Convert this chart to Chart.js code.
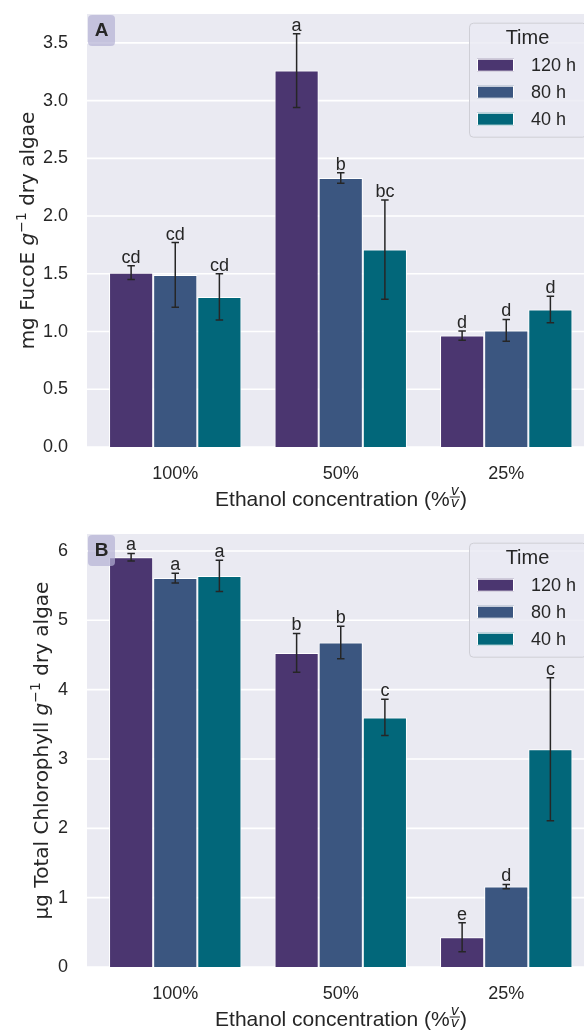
<!DOCTYPE html>
<html>
<head>
<meta charset="utf-8">
<script src="https://cdn.jsdelivr.net/npm/chart.js@4.4.1/dist/chart.umd.min.js"></script>
<style>
html, body { margin: 0; padding: 0; background: #fff; overflow: hidden; width: 584px; height: 1031px; }
.panel { position: absolute; left: 0; width: 600px; height: 520px; }
</style>
</head>
<body>
<div class="panel" style="top:0"><canvas id="chartA" width="600" height="520"></canvas></div>
<div class="panel" style="top:520px"><canvas id="chartB" width="600" height="520"></canvas></div>
<script>
var categories = ['100%', '50%', '25%'];
var timeLabels = ['120 h', '80 h', '40 h'];
var barColors = ['#4b3670', '#3b5680', '#02677a'];

// A: fucoxanthin (mean, error, letter) per extraction time
var fuco120 = [1.51, 3.26, 0.965];
var fuco80 = [1.49, 2.33, 1.01];
var fuco40 = [1.30, 1.71, 1.19];
var fucoErr120 = [0.06, 0.32, 0.04];
var fucoErr80 = [0.28, 0.045, 0.095];
var fucoErr40 = [0.20, 0.43, 0.115];
var fucoLet120 = ['cd', 'a', 'd'];
var fucoLet80 = ['cd', 'b', 'd'];
var fucoLet40 = ['cd', 'bc', 'd'];
var fucoTicks = [0, 0.5, 1.0, 1.5, 2.0, 2.5, 3.0, 3.5];

// B: total chlorophyll
var chl120 = [5.91, 4.53, 0.43];
var chl80 = [5.61, 4.68, 1.16];
var chl40 = [5.64, 3.60, 3.14];
var chlErr120 = [0.055, 0.28, 0.21];
var chlErr80 = [0.07, 0.235, 0.03];
var chlErr40 = [0.225, 0.26, 1.03];
var chlLet120 = ['a', 'b', 'e'];
var chlLet80 = ['a', 'b', 'd'];
var chlLet40 = ['a', 'c', 'c'];
var chlTicks = [0, 1, 2, 3, 4, 5, 6];

var FONT = "'Liberation Sans', Arial, sans-serif";
var TXT = '#262626';
var BG_LEFT = 87;

Chart.defaults.font.family = FONT;
Chart.defaults.color = TXT;

function drawParts(ctx, parts, x, y, rotate) {
    ctx.save();
    ctx.translate(x, y);
    if (rotate) ctx.rotate(-Math.PI / 2);
    var total = 0;
    parts.forEach(function (p) {
        ctx.font = p.font;
        p.w = p.frac ? ctx.measureText(p.t).width + 2 : ctx.measureText(p.t).width;
        total += p.w;
    });
    var cx = -total / 2;
    ctx.fillStyle = TXT;
    ctx.textBaseline = 'alphabetic';
    ctx.textAlign = 'left';
    parts.forEach(function (p) {
        ctx.font = p.font;
        if (p.frac) {
            ctx.textAlign = 'center';
            ctx.fillText(p.t, cx + p.w / 2, -11);
            ctx.fillText(p.t, cx + p.w / 2, 1);
            ctx.fillRect(cx, -9.5, p.w, 1);
            ctx.textAlign = 'left';
        } else {
            ctx.fillText(p.t, cx, -(p.rise || 0));
        }
        cx += p.w;
    });
    ctx.restore();
}

function makeChart(id, means, errs, lets, ticks, yMax, dec, panel, yParts, yTitleX) {
    var panelPlugin = {
        id: 'panelDecor',
        beforeDraw: function (chart) {
            var ctx = chart.ctx, a = chart.chartArea, ys = chart.scales.y;
            ctx.save();
            ctx.fillStyle = '#ffffff';
            ctx.fillRect(0, 0, chart.width, chart.height);
            ctx.fillStyle = '#eaeaf2';
            ctx.fillRect(BG_LEFT, a.top, chart.width - BG_LEFT, a.bottom - a.top);
            ctx.strokeStyle = '#ffffff';
            ctx.lineWidth = 1.6;
            ticks.forEach(function (t) {
                var py = ys.getPixelForValue(t);
                ctx.beginPath();
                ctx.moveTo(BG_LEFT, py);
                ctx.lineTo(chart.width, py);
                ctx.stroke();
            });
            ctx.restore();
        },
        afterDatasetsDraw: function (chart) {
            var ctx = chart.ctx, ys = chart.scales.y;
            ctx.save();
            ctx.strokeStyle = TXT;
            ctx.lineWidth = 1.5;
            ctx.fillStyle = TXT;
            ctx.font = '18px ' + FONT;
            ctx.textAlign = 'center';
            ctx.textBaseline = 'alphabetic';
            for (var i = 0; i < means.length; i++) {
                var meta = chart.getDatasetMeta(i);
                for (var j = 0; j < categories.length; j++) {
                    var bx = meta.data[j].x;
                    var top = ys.getPixelForValue(means[i][j] + errs[i][j]);
                    var bot = ys.getPixelForValue(means[i][j] - errs[i][j]);
                    ctx.beginPath();
                    ctx.moveTo(bx, top); ctx.lineTo(bx, bot);
                    ctx.moveTo(bx - 3.75, top); ctx.lineTo(bx + 3.75, top);
                    ctx.moveTo(bx - 3.75, bot); ctx.lineTo(bx + 3.75, bot);
                    ctx.stroke();
                    ctx.fillText(lets[i][j], bx, top - 3);
                }
            }
            ctx.restore();
        },
        afterDraw: function (chart) {
            var ctx = chart.ctx, a = chart.chartArea;
            ctx.save();
            // panel tag
            ctx.fillStyle = 'rgba(180,176,212,0.7)';
            ctx.beginPath();
            ctx.roundRect(BG_LEFT + 1, a.top + 1, 27, 31, 4);
            ctx.fill();
            ctx.fillStyle = TXT;
            ctx.font = 'bold 19px ' + FONT;
            ctx.textAlign = 'center';
            ctx.textBaseline = 'middle';
            ctx.fillText(panel, BG_LEFT + 14.5, a.top + 17);

            // legend
            var lx = 469, ly = a.top + 8.7;
            ctx.fillStyle = 'rgba(234,234,242,0.8)';
            ctx.strokeStyle = '#cfcfd6';
            ctx.lineWidth = 1;
            ctx.beginPath();
            ctx.roundRect(lx + 0.5, ly + 0.5, 117, 114, 4);
            ctx.fill();
            ctx.stroke();
            ctx.fillStyle = TXT;
            ctx.font = '20px ' + FONT;
            ctx.fillText('Time', lx + 58.5, ly + 16);
            ctx.font = '18px ' + FONT;
            ctx.textAlign = 'left';
            for (var k = 0; k < timeLabels.length; k++) {
                var ry = ly + 42.5 + k * 27;
                ctx.fillStyle = barColors[k];
                ctx.fillRect(lx + 8, ry - 6.5, 37, 13);
                ctx.strokeStyle = '#ffffff';
                ctx.strokeRect(lx + 8.5, ry - 6, 36, 12);
                ctx.fillStyle = TXT;
                ctx.fillText(timeLabels[k], lx + 62, ry + 1);
            }

            // axis titles
            drawParts(ctx, [
                { t: 'Ethanol concentration (%', font: '21px ' + FONT },
                { t: 'v', font: 'italic 14px "DejaVu Sans"', frac: true },
                { t: ')', font: '21px ' + FONT }
            ], 341, a.bottom + 59, false);
            drawParts(ctx, yParts, yTitleX, (a.top + a.bottom) / 2, true);
            ctx.restore();
        }
    };

    return new Chart(document.getElementById(id), {
        type: 'bar',
        data: {
            labels: categories,
            datasets: means.map(function (m, i) {
                return {
                    label: timeLabels[i],
                    data: m,
                    backgroundColor: barColors[i],
                    borderColor: '#ffffff',
                    borderWidth: 1,
                    categoryPercentage: 0.8,
                    barPercentage: 1.0
                };
            })
        },
        options: {
            responsive: false,
            animation: false,
            devicePixelRatio: 1,
            layout: { padding: { top: 14, right: 11, left: 0, bottom: 0 } },
            plugins: { legend: { display: false }, tooltip: { enabled: false } },
            scales: {
                x: {
                    grid: { display: false },
                    border: { display: false },
                    ticks: { font: { size: 18 }, color: TXT, padding: 8 },
                    afterFit: function (s) { s.height = 73; s.paddingLeft = 0; s.paddingRight = 0; }
                },
                y: {
                    min: 0,
                    max: yMax,
                    grid: { display: false, drawTicks: false },
                    border: { display: false },
                    afterBuildTicks: function (s) {
                        s.ticks = ticks.map(function (v) { return { value: v }; });
                    },
                    ticks: {
                        font: { size: 18 },
                        color: TXT,
                        padding: 24.5,
                        callback: function (v) { return Number(v).toFixed(dec); }
                    },
                    afterFit: function (s) { s.width = 92.5; s.paddingTop = 0; s.paddingBottom = 0; }
                }
            }
        },
        plugins: [panelPlugin]
    });
}

makeChart('chartA',
    [fuco120, fuco80, fuco40],
    [fucoErr120, fucoErr80, fucoErr40],
    [fucoLet120, fucoLet80, fucoLet40],
    fucoTicks, 3.75, 1, 'A', [
        { t: 'mg FucoE ', font: '20px "DejaVu Sans"' },
        { t: 'g', font: 'italic 20px "DejaVu Sans"' },
        { t: '\u22121', font: '14px "DejaVu Sans"', rise: 8 },
        { t: ' dry algae', font: '20px "DejaVu Sans"' }
    ], 34);

makeChart('chartB',
    [chl120, chl80, chl40],
    [chlErr120, chlErr80, chlErr40],
    [chlLet120, chlLet80, chlLet40],
    chlTicks, 6.245, 0, 'B', [
        { t: '\u00b5g Total Chlorophyll ', font: '20px "DejaVu Sans"' },
        { t: 'g', font: 'italic 20px "DejaVu Sans"' },
        { t: '\u22121', font: '14px "DejaVu Sans"', rise: 8 },
        { t: ' dry algae', font: '20px "DejaVu Sans"' }
    ], 48);
</script>
</body>
</html>
